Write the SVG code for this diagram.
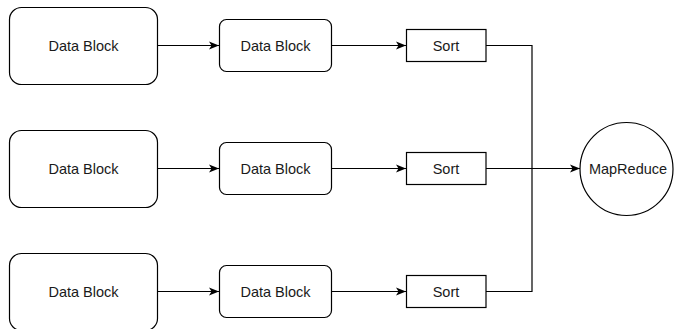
<svg xmlns="http://www.w3.org/2000/svg" width="675" height="329" viewBox="0 0 675 329">
  <style>
    .box { fill: #ffffff; stroke: #000000; stroke-width: 1.2; }
    .edge { fill: none; stroke: #000000; stroke-width: 1.2; }
    .lbl { font-family: "Liberation Sans", Arial, Helvetica, sans-serif; font-size: 14.5px; fill: #1a1a1a; text-anchor: middle; dominant-baseline: central; }
  </style>
  <defs>
    <marker id="arrow" markerWidth="12" markerHeight="12" refX="11" refY="6" orient="auto" markerUnits="userSpaceOnUse">
      <path d="M1,2 L11,6 L1,10 L3.5,6 Z" fill="#000000"/>
    </marker>
  </defs>
  <rect width="675" height="329" fill="#ffffff"/>

  <!-- connectors -->
  <g id="edges">
    <line class="edge" x1="158" y1="45.5" x2="219" y2="45.5" marker-end="url(#arrow)"/>
    <line class="edge" x1="158" y1="168.5" x2="219" y2="168.5" marker-end="url(#arrow)"/>
    <line class="edge" x1="158" y1="291.5" x2="219" y2="291.5" marker-end="url(#arrow)"/>
    <line class="edge" x1="332" y1="45.5" x2="406" y2="45.5" marker-end="url(#arrow)"/>
    <line class="edge" x1="332" y1="168.5" x2="406" y2="168.5" marker-end="url(#arrow)"/>
    <line class="edge" x1="332" y1="291.5" x2="406" y2="291.5" marker-end="url(#arrow)"/>
    <polyline class="edge" points="486,45.5 532,45.5 532,291.5 486,291.5"/>
    <line class="edge" x1="486" y1="168.5" x2="580" y2="168.5" marker-end="url(#arrow)"/>
  </g>

  <!-- input blocks -->
  <g id="block1">
    <rect class="box" x="9.5" y="7.5" width="148" height="77" rx="12"/>
    <text class="lbl" x="83.5" y="46">Data Block</text>
  </g>
  <g id="block2">
    <rect class="box" x="9.5" y="130.5" width="148" height="77" rx="12"/>
    <text class="lbl" x="83.5" y="169">Data Block</text>
  </g>
  <g id="block3">
    <rect class="box" x="9.5" y="253.5" width="148" height="77" rx="12"/>
    <text class="lbl" x="83.5" y="292">Data Block</text>
  </g>

  <!-- intermediate blocks -->
  <g id="split1">
    <rect class="box" x="219.5" y="19.5" width="112" height="52" rx="7"/>
    <text class="lbl" x="275.5" y="46">Data Block</text>
  </g>
  <g id="split2">
    <rect class="box" x="219.5" y="142.5" width="112" height="52" rx="7"/>
    <text class="lbl" x="275.5" y="169">Data Block</text>
  </g>
  <g id="split3">
    <rect class="box" x="219.5" y="265.5" width="112" height="52" rx="7"/>
    <text class="lbl" x="275.5" y="292">Data Block</text>
  </g>

  <!-- sort steps -->
  <g id="sort1">
    <rect class="box" x="406.5" y="29.5" width="79.5" height="32"/>
    <text class="lbl" x="446" y="46">Sort</text>
  </g>
  <g id="sort2">
    <rect class="box" x="406.5" y="152.5" width="79.5" height="32"/>
    <text class="lbl" x="446" y="169">Sort</text>
  </g>
  <g id="sort3">
    <rect class="box" x="406.5" y="275.5" width="79.5" height="32"/>
    <text class="lbl" x="446" y="292">Sort</text>
  </g>

  <!-- reducer -->
  <g id="mapreduce">
    <circle class="box" cx="626.5" cy="169" r="46.5"/>
    <text class="lbl" x="628" y="169">MapReduce</text>
  </g>
</svg>
